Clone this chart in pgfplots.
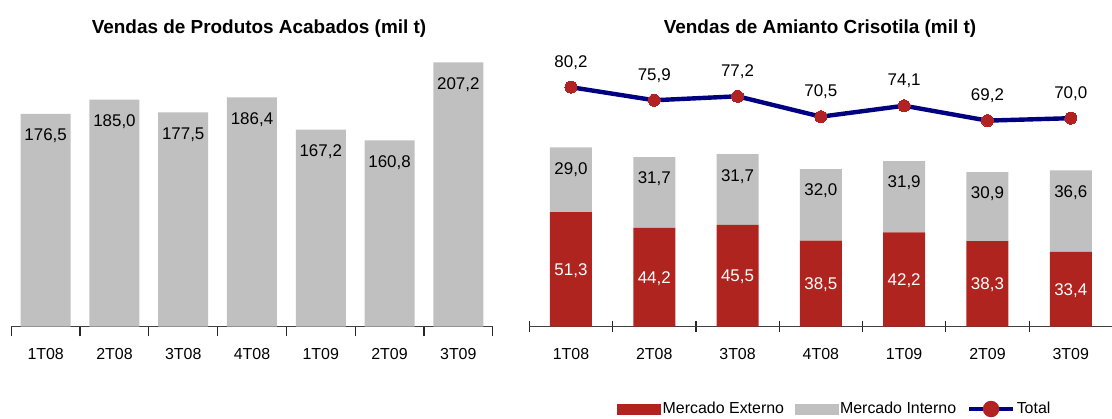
\documentclass[border=0pt]{standalone}
\usepackage{pgfplots}
\pgfplotsset{compat=1.18}
\usepackage{fontspec}
\setmainfont{Liberation Sans}

\definecolor{externo}{HTML}{B0241F}
\definecolor{interno}{HTML}{C0C0C0}
\definecolor{totalline}{HTML}{000080}
\definecolor{totalmark}{HTML}{B22222}

\pgfkeys{/pgf/number format/.cd, assume math mode=true, use comma, fixed, fixed zerofill, precision=1}

\newcommand{\ticksize}{\fontsize{8}{9.6}\selectfont}
\newcommand{\numsize}{\fontsize{8.5}{10}\selectfont}

\pgfplotsset{
  cat axis/.style={
    scale only axis,
    anchor=south west,
    height=143.25bp,
    xmin=-0.5, xmax=6.5,
    axis x line=bottom,
    axis y line=none,
    axis line style={-, black!75, line width=0.6bp},
    xtick={0,...,6},
    xticklabels={1T08,2T08,3T08,4T08,1T09,2T09,3T09},
    major tick length=0pt,
    minor xtick={-0.5,0.5,...,6.5},
    minor tick length=5bp,
    tick align=center,
    tick style={black!85, line width=0.6bp},
    xticklabel style={font=\ticksize, anchor=north, inner sep=0pt, yshift=-10.5bp},
  },
}

\begin{document}
\begin{tikzpicture}
\useasboundingbox (0,0) rectangle (556bp,209.5bp);

% titles
\node[anchor=base, font=\fontsize{9.5}{11}\selectfont\bfseries] at (129.5bp,192.9bp) {Vendas de Produtos Acabados (mil t)};
\node[anchor=base, font=\fontsize{9.5}{11}\selectfont\bfseries] at (410bp,192.9bp) {Vendas de Amianto Crisotila (mil t)};

% left: produtos acabados
\begin{axis}[
    cat axis,
    at={(5.65bp,46.25bp)},
    width=240.7bp,
    ymin=50, ymax=220.5,
    ybar, bar width=25bp,
    nodes near coords,
    nodes near coords style={font=\numsize, text=black, anchor=base, yshift=-13.4bp},
]
\addplot[fill=interno, draw=none] coordinates {
  (0,176.5) (1,185.0) (2,177.5) (3,186.4) (4,167.2) (5,160.8) (6,207.2)
};
\end{axis}

% right: amianto crisotila, stacked bars (labels sit at segment centres)
\begin{axis}[
    cat axis,
    at={(264.65bp,46.25bp)},
    width=291.55bp,
    ymin=0, ymax=128.4,
    ybar stacked, bar width=21bp,
]
\addplot[fill=externo, draw=none,
  visualization depends on={rawy \as \rawy},
  nodes near coords={\pgfmathprintnumber{\rawy}},
  every node near coord/.append style={font=\numsize, text=white, anchor=base, yshift=-3.04bp},
] coordinates {
  (0,51.3) (1,44.2) (2,45.5) (3,38.5) (4,42.2) (5,38.3) (6,33.4)
};
\addplot[fill=interno, draw=none,
  visualization depends on={rawy \as \rawy},
  nodes near coords={\pgfmathprintnumber{\rawy}},
  every node near coord/.append style={font=\numsize, text=black, anchor=base, yshift={0.5578bp*\rawy-13.4bp}},
] coordinates {
  (0,29.0) (1,31.7) (2,31.7) (3,32.0) (4,31.9) (5,30.9) (6,36.6)
};
\end{axis}

% right: total line on its own scale
\begin{axis}[
    scale only axis,
    anchor=south west,
    at={(264.65bp,46.25bp)},
    width=291.55bp, height=143.25bp,
    xmin=-0.5, xmax=6.5,
    ymin=1.48, ymax=95.72,
    hide axis,
    legend columns=3,
    legend style={at={(0.1504,-0.288)}, anchor=west, draw=none, fill=none,
      inner sep=0pt, font=\ticksize, nodes={inner sep=0.75bp},
      /tikz/every even column/.append style={column sep=4.6bp}},
]
\addlegendimage{legend image code/.code={\fill[externo] (0bp,-2.5bp) rectangle (21.5bp,2.5bp);}}
\addlegendentry{Mercado Externo}
\addlegendimage{legend image code/.code={\fill[interno] (0bp,-2.5bp) rectangle (21.5bp,2.5bp);}}
\addlegendentry{Mercado Interno}
\addplot[totalline, line width=2.2bp, mark=*, mark size=3bp,
  mark options={fill=totalmark, draw=totalmark, line width=0pt},
  nodes near coords,
  every node near coord/.append style={font=\numsize, text=black, anchor=base, yshift=10bp},
  legend image code/.code={\draw[totalline, line width=2.2bp] (0bp,0bp) -- (22bp,0bp); \fill[totalmark] (11bp,0bp) circle (3bp);},
] coordinates {
  (0,80.2) (1,75.9) (2,77.2) (3,70.5) (4,74.1) (5,69.2) (6,70.0)
};
\addlegendentry{Total}
\end{axis}
\end{tikzpicture}
\end{document}
